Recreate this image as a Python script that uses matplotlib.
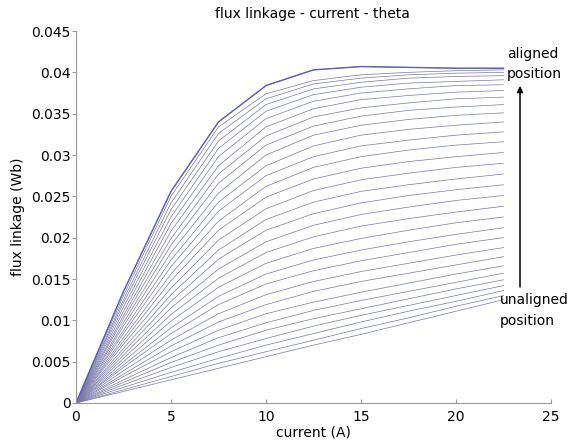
import matplotlib
matplotlib.use('Agg')
import matplotlib.pyplot as plt

# phase current (A) at which the flux linkage was tabulated
current = [0, 2.5, 5, 7.5, 10, 12.5, 15, 17.5, 20, 22.5]

# flux linkage (Wb), one row per rotor position: aligned (first) -> unaligned (last)
flux = [
    [0, .0135, .0256, .0340, .0384, .0403, .0407, .0406, .0405, .0405],
    [0, .0130, .0250, .0334, .0374, .0390, .0397, .0400, .0402, .0403],
    [0, .0125, .0242, .0326, .0368, .0386, .0393, .0397, .0399, .0400],
    [0, .0121, .0234, .0317, .0361, .0380, .0388, .0393, .0395, .0396],
    [0, .0116, .0225, .0308, .0353, .0373, .0382, .0387, .0389, .0391],
    [0, .0111, .0217, .0298, .0344, .0365, .0375, .0380, .0384, .0385],
    [0, .0106, .0208, .0287, .0334, .0356, .0367, .0372, .0376, .0378],
    [0, .0102, .0199, .0277, .0323, .0346, .0357, .0363, .0368, .0370],
    [0, .0097, .0191, .0266, .0312, .0335, .0347, .0354, .0358, .0361],
    [0, .0093, .0182, .0254, .0300, .0324, .0336, .0343, .0348, .0351],
    [0, .0088, .0173, .0243, .0287, .0311, .0324, .0331, .0336, .0340],
    [0, .0084, .0165, .0232, .0275, .0298, .0311, .0318, .0324, .0328],
    [0, .0079, .0156, .0220, .0262, .0285, .0298, .0306, .0312, .0316],
    [0, .0075, .0148, .0209, .0249, .0271, .0284, .0292, .0298, .0303],
    [0, .0071, .0139, .0197, .0235, .0257, .0270, .0278, .0285, .0290],
    [0, .0066, .0131, .0185, .0222, .0243, .0256, .0264, .0271, .0277],
    [0, .0062, .0123, .0174, .0209, .0229, .0242, .0251, .0258, .0264],
    [0, .0058, .0115, .0162, .0195, .0215, .0228, .0237, .0245, .0251],
    [0, .0054, .0107, .0151, .0182, .0201, .0214, .0223, .0231, .0238],
    [0, .0050, .0099, .0140, .0169, .0187, .0199, .0209, .0218, .0225],
    [0, .0046, .0091, .0129, .0156, .0173, .0185, .0195, .0204, .0212],
    [0, .0043, .0084, .0119, .0144, .0160, .0172, .0182, .0192, .0200],
    [0, .0039, .0076, .0108, .0131, .0147, .0159, .0169, .0179, .0188],
    [0, .0035, .0069, .0098, .0119, .0135, .0147, .0157, .0167, .0177],
    [0, .0032, .0062, .0088, .0108, .0122, .0134, .0145, .0156, .0166],
    [0, .0028, .0055, .0079, .0097, .0112, .0124, .0135, .0146, .0157],
    [0, .0025, .0049, .0070, .0088, .0102, .0114, .0126, .0138, .0149],
    [0, .0022, .0043, .0062, .0078, .0093, .0106, .0118, .0130, .0142],
    [0, .0019, .0037, .0054, .0070, .0084, .0098, .0111, .0123, .0136],
    [0, .0016, .0032, .0048, .0062, .0076, .0090, .0103, .0117, .0130],
    [0, .0014, .0028, .0042, .0056, .0070, .0083, .0097, .0111, .0125],
]

xticks = [0, 5, 10, 15, 20, 25]
yticks = [0, 0.005, 0.01, 0.015, 0.02, 0.025, 0.03, 0.035, 0.04, 0.045]
ytick_labels = ['0', '0.005', '0.01', '0.015', '0.02', '0.025', '0.03', '0.035', '0.04', '0.045']

plt.rcParams['font.family'] = 'DejaVu Sans'

fig = plt.figure(figsize=(5.74, 4.45), dpi=100)
ax = fig.add_axes([0.1324, 0.0944, 0.8275, 0.8359])

for row in flux[::-1]:
    ax.plot(current, row, color='#7878a8', lw=0.5, solid_joinstyle='round')
ax.plot(current, flux[0], color='#5c5cc4', lw=1.0, solid_joinstyle='round')

ax.set_xlim(0, 25)
ax.set_ylim(0, 0.045)
ax.set_xticks(xticks)
ax.set_xticklabels([str(t) for t in xticks])
ax.set_yticks(yticks)
ax.set_yticklabels(ytick_labels)

for s in ('top', 'right'):
    ax.spines[s].set_visible(False)
for s in ('left', 'bottom'):
    ax.spines[s].set_color('#9a9a9a')
    ax.spines[s].set_linewidth(0.8)
ax.tick_params(axis='x', direction='in', length=3, color='#9a9a9a', labelsize=10, pad=5)
ax.tick_params(axis='y', direction='out', length=3, color='#9a9a9a', labelsize=10, pad=1)

ax.set_xlabel('current (A)', fontsize=10, labelpad=1)
ax.set_ylabel('flux linkage (Wb)', fontsize=10, labelpad=4)
fig.text(0.545, 0.968, 'flux linkage - current - theta', ha='center', va='center', fontsize=10)

# arrow from unaligned to aligned position
ax.annotate('', xy=(23.37, 0.0387), xytext=(23.37, 0.0137),
            arrowprops=dict(arrowstyle='-|>', color='black', lw=1.1, mutation_scale=9),
            annotation_clip=False)
ax.text(22.68, 0.0410, 'aligned\nposition', fontsize=10, ha='left', va='center',
        multialignment='left', linespacing=1.6, clip_on=False)
ax.text(22.3, 0.0112, 'unaligned\nposition', fontsize=10, ha='left', va='center',
        multialignment='left', linespacing=1.6, clip_on=False)

fig.savefig('out.png', dpi=100)
